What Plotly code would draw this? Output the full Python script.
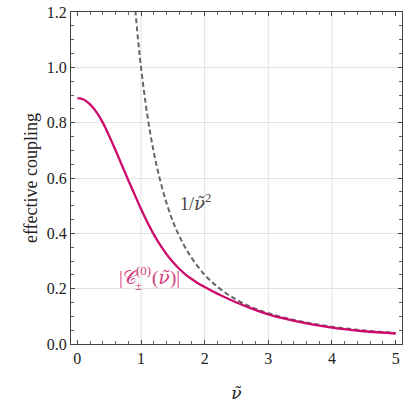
import plotly.graph_objects as go

# values
nu = [0.0, 0.1, 0.2, 0.3, 0.4, 0.5, 0.6, 0.7, 0.8, 0.9, 1.0, 1.1, 1.2, 1.3, 1.4,
      1.5, 1.6, 1.7, 1.8, 1.9, 2.0, 2.25, 2.5, 2.75, 3.0, 3.5, 4.0, 4.5, 5.0]
coupling = [0.889, 0.884, 0.866, 0.838, 0.800, 0.752, 0.700, 0.646, 0.592, 0.540,
            0.488, 0.440, 0.396, 0.358, 0.325, 0.296, 0.272, 0.251, 0.234, 0.219,
            0.206, 0.176, 0.150, 0.127, 0.107, 0.079, 0.059, 0.046, 0.038]

nu_asym = [0.90, 0.95, 1.0, 1.1, 1.2, 1.3, 1.4, 1.5, 1.6, 1.75, 2.0, 2.25, 2.5,
           2.75, 3.0, 3.5, 4.0, 4.5, 5.0]
asym = [1.235, 1.108, 1.0, 0.826, 0.694, 0.592, 0.510, 0.444, 0.391, 0.327, 0.250,
        0.198, 0.160, 0.132, 0.111, 0.082, 0.0625, 0.049, 0.040]

x_ticks = [0, 1, 2, 3, 4, 5]
x_grid = [1, 2, 3, 4]
y_ticks = [0.0, 0.2, 0.4, 0.6, 0.8, 1.0, 1.2]
y_labels = ["0.0", "0.2", "0.4", "0.6", "0.8", "1.0", "1.2"]

magenta = "#cc0a6b"
label_pink = "#d4417e"
serif = "Liberation Serif"
nu_font = "DejaVu Serif"

fig = go.Figure()
fig.add_trace(go.Scatter(x=nu_asym, y=asym, mode="lines",
                         line=dict(color="#666666", width=2, dash="5px,3px", shape="spline")))
fig.add_trace(go.Scatter(x=nu, y=coupling, mode="lines",
                         line=dict(color=magenta, width=2.3, shape="spline")))

for g in x_grid:
    fig.add_shape(type="line", xref="x", yref="paper", x0=g, x1=g, y0=0, y1=1,
                  line=dict(color="#e3e3e3", width=1), layer="below")

# 1/nu^2 label
fig.add_annotation(x=1.58, y=0.51, xref="x", yref="y", xanchor="left", showarrow=False,
                   text="1/<span style='font-family:DejaVu Serif'><i>ν̃</i></span><sup>2</sup>",
                   font=dict(family=serif, size=18, color="#444444"))

# |C_±^(0)(nu)| label, built from pieces so sub/superscript stack
lx, ly = 0.617, 0.24
fig.add_annotation(x=lx, y=ly, xref="x", yref="y", xanchor="left", showarrow=False,
                   text="|𝒞", font=dict(family=serif, size=19, color=label_pink))
fig.add_annotation(x=lx, y=ly, xref="x", yref="y", xanchor="left", showarrow=False,
                   xshift=17, yshift=7, text="(0)",
                   font=dict(family=serif, size=13, color=label_pink))
fig.add_annotation(x=lx, y=ly, xref="x", yref="y", xanchor="left", showarrow=False,
                   xshift=16, yshift=-8, text="±",
                   font=dict(family=serif, size=13, color=label_pink))
fig.add_annotation(x=lx, y=ly, xref="x", yref="y", xanchor="left", showarrow=False,
                   xshift=33, text="(<span style='font-family:DejaVu Serif'><i>ν̃</i></span>)|",
                   font=dict(family=serif, size=19, color=label_pink))

fig.update_layout(
    width=415, height=406,
    margin=dict(l=71, r=13, t=12, b=62),
    plot_bgcolor="white", paper_bgcolor="white",
    showlegend=False,
    font=dict(family=serif, size=16, color="#222222"),
)
fig.update_xaxes(
    range=[-0.1, 5.1], tickvals=x_ticks, showgrid=False, zeroline=False, automargin=False,
    ticks="inside", ticklen=4, tickcolor="#444444",
    showline=True, linecolor="#444444", linewidth=1.3, mirror="allticks",
    minor=dict(dtick=0.2, ticks="inside", ticklen=2.5, tickcolor="#666666"),
    title=dict(text="<i>ν̃</i>", font=dict(family=nu_font, size=17), standoff=20),
)
fig.update_yaxes(
    range=[0, 1.2], tickvals=y_ticks, ticktext=y_labels,
    showgrid=True, gridcolor="#e3e3e3", zeroline=False, automargin=False,
    ticklabeloverflow="allow",
    ticks="inside", ticklen=4, tickcolor="#444444",
    showline=True, linecolor="#444444", linewidth=1.3, mirror="allticks",
    minor=dict(dtick=0.05, ticks="inside", ticklen=2.5, tickcolor="#666666"),
    title=dict(text="effective coupling", font=dict(size=18), standoff=4),
)

# drop the default page margin so the figure sits at the window's corner
fig.write_html("out.html", config={"displayModeBar": False},
               post_script="document.body.style.margin='0';")
